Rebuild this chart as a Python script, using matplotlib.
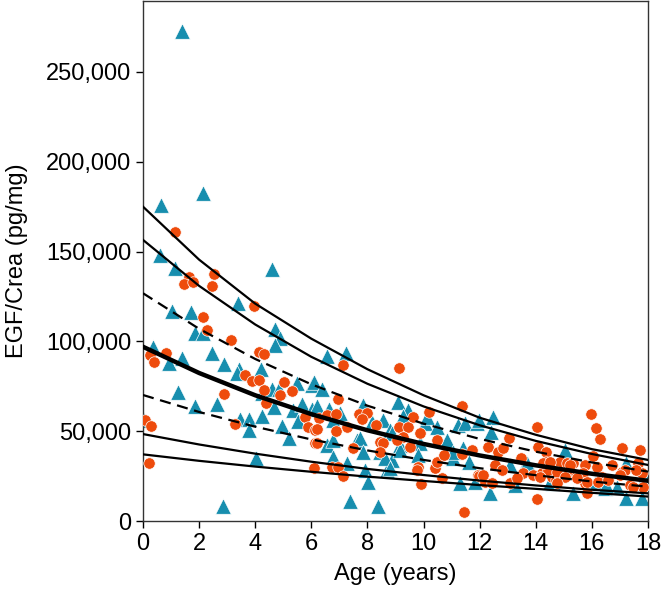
import matplotlib
matplotlib.use("Agg")
import matplotlib.pyplot as plt
from matplotlib.ticker import FuncFormatter

plt.rcParams['font.family'] = ['Liberation Sans', 'DejaVu Sans']

# ---- data: blue triangles (age, value) ----
tri_age = [0.63, 2.13, 0.61, 1.13, 4.61, 3.37, 1.02, 1.71, 1.85, 2.15, 4.70, 4.88, 1.38,
           0.37, 0.94, 1.38, 2.45, 2.87, 3.43, 4.21, 4.70, 3.34, 4.25, 4.59, 4.68, 4.85,
           5.48, 6.01, 1.26, 1.85, 2.62, 0.02, 3.46, 3.79, 3.78, 4.23, 4.94, 5.20, 5.36,
           5.54, 5.65, 6.01, 4.02, 2.86,
           6.55, 7.23, 6.09, 6.37, 6.19, 6.64, 7.02, 6.78, 7.85, 8.15, 8.56, 7.62, 6.55,
           6.78, 7.26, 7.91, 8.03, 7.38, 8.39, 8.45, 8.80, 9.10, 9.46, 9.28, 9.16, 10.05,
           10.11, 9.87, 8.86, 8.68, 10.47, 10.82, 11.06, 11.24, 11.48, 11.42, 11.63, 11.30,
           11.83, 11.89,
           12.46, 11.99, 12.39, 13.08, 13.61, 12.37, 13.26, 13.79, 15.04, 15.28, 15.34,
           16.11, 16.46, 17.21, 17.21, 17.77, 17.89, 14.62, 16.88,
           14.50, 16.52, 13.67, 8.86, 6.78, 7.73, 8.62, 7.85, 9.16, 9.81, 11.06, 8.80]
tri_val = [175800, 182800, 148100, 140700, 140100, 121200, 117100, 116200, 104800, 104800, 106900, 101900, 272800,
           97000, 88200, 90600, 93700, 87400, 84500, 84500, 98000, 82200, 71100, 73300, 63300, 73300,
           77000, 75700, 72000, 64000, 65100, 56200, 56600, 56600, 50700, 58500, 52900, 46000, 61800,
           55800, 65100, 62200, 34900, 8400,
           91900, 93400, 77600, 73300, 64000, 62200, 60300, 56200, 64600, 55300, 56200, 45100, 42300,
           35800, 32100, 28400, 21900, 11300, 8400, 38600, 50700, 66400, 61800, 58500, 42300, 54400,
           58100, 43300, 34000, 28400, 52500, 45100, 34900, 53500, 54400, 40500, 33000, 21000,
           21900, 54400,
           57700, 56200, 49700, 31200, 31200, 15400, 20000, 29300, 39500, 28400, 15400,
           21000, 18200, 32100, 12600, 12600, 24700, 21000, 19100,
           21900, 20000, 32100, 48800, 45100, 46000, 34900, 38600, 39500, 36700, 38600, 29300]

# ---- data: orange circles (age, value) ----
circ_age = [1.13, 1.64, 1.46, 1.79, 2.54, 2.46, 3.96, 2.13, 2.28, 3.14,
            0.25, 0.39, 0.81, 3.64, 4.13, 4.31, 3.87, 4.13, 4.30, 4.38, 4.88, 5.04, 5.30, 2.87,
            0.07, 0.29, 3.28, 5.77, 5.89, 6.13, 6.13, 0.21, 6.09,
            7.12, 9.13, 6.96, 6.28, 6.57, 6.88, 6.21, 6.88, 7.28, 7.71, 7.97, 7.79, 8.30, 6.21,
            7.49, 6.72, 6.96, 7.14, 8.45, 8.54, 9.13, 9.46, 9.63, 9.28, 9.04, 9.87, 10.20, 9.52,
            9.81, 9.78, 9.90, 10.41, 10.47, 10.64, 10.47, 10.73, 11.38, 11.36, 11.71, 11.45, 11.95,
            13.05, 12.31, 12.66, 12.84, 12.54, 12.78, 13.46, 13.55, 11.99, 12.19, 12.43, 13.08,
            13.32, 14.03, 14.07, 14.36, 14.03, 13.91, 14.21, 14.57, 14.36, 14.72, 14.86, 15.10,
            15.34, 15.10, 15.46, 15.75, 15.69, 15.75, 15.81, 15.97, 16.14, 16.29, 16.05, 16.17,
            16.35, 16.70, 17.06, 17.06, 17.36, 17.71, 17.65, 17.77, 17.83, 14.44, 14.74, 17.48,
            14.27, 14.50, 15.22, 17.18, 17.59, 12.13, 14.15, 15.04, 15.46, 15.81, 16.23, 16.58,
            17.00, 14.74, 8.45]
circ_val = [161100, 136000, 132100, 132900, 137500, 130700, 119500, 113600, 106300, 100800,
            92400, 88400, 93700, 81300, 94300, 93000, 77900, 78500, 72900, 65500, 70200, 77600, 72600, 70700,
            56200, 52900, 54000, 57700, 52200, 50700, 43300, 32100, 29300,
            86900, 85000, 67800, 57200, 59000, 59600, 51100, 50300, 52500, 59600, 60300, 56600, 53500, 43300,
            40500, 30200, 29900, 25200, 44200, 43300, 52500, 52500, 57700, 46900, 45100, 48800, 60900, 41400,
            30200, 28400, 20600, 29300, 33000, 23800, 45100, 36700, 64000, 37300, 39500, 5200, 25600,
            46000, 41400, 38600, 40500, 31200, 28400, 34900, 26600, 25200, 21900, 21000, 21000,
            23800, 52200, 41400, 38600, 12100, 25600, 26600, 24700, 33000, 22800, 33000, 32100,
            32100, 26600, 25600, 31200, 26600, 21000, 15400, 59600, 51600, 45500, 36200, 30200,
            24700, 31200, 40500, 27500, 20000, 39500, 32100, 26600, 19100, 28400, 27500, 19100,
            32100, 33000, 31200, 28400, 28400, 25600, 24700, 24700, 23800, 21900, 21900, 22800,
            25600, 21000, 38600]

# ---- reference curves read at even ages ----
curve_age = [0, 2, 4, 6, 8, 10, 12, 14, 16, 18]
p_top = [175000, 145500, 121000, 101500, 84500, 70000, 57500, 48000, 40000, 34000]
p_high = [156500, 130900, 109400, 91400, 76400, 63800, 53300, 44600, 37300, 31200]
p_upper_dash = [126800, 107000, 90200, 76100, 64200, 54200, 45700, 38600, 32600, 27500]
p_median = [97000, 82400, 70000, 59500, 50500, 42900, 36500, 31000, 26300, 22400]
p_lower_dash = [70150, 60700, 52500, 45400, 39300, 34000, 29400, 25500, 22000, 19100]
p_low = [48400, 42600, 37500, 33000, 29000, 25600, 22500, 19800, 17400, 15400]
p_bottom = [37100, 33500, 30300, 27400, 24700, 22300, 20000, 17900, 15700, 13600]

x_ticks = [0, 2, 4, 6, 8, 10, 12, 14, 16, 18]
y_ticks = [0, 50000, 100000, 150000, 200000, 250000]

fig = plt.figure(figsize=(6.64, 5.92), dpi=100)
ax = fig.add_axes([143 / 664, 71 / 592, 505 / 664, 520 / 592])

ax.scatter(tri_age, tri_val, marker='^', s=125, color='#178EAE', edgecolors='white',
           linewidths=0.5, zorder=2)
ax.scatter(circ_age, circ_val, marker='o', s=68, color='#EE4B0C', edgecolors='white',
           linewidths=0.5, zorder=3)

ax.plot(curve_age, p_top, color='black', lw=1.6, zorder=4)
ax.plot(curve_age, p_high, color='black', lw=1.6, zorder=4)
ax.plot(curve_age, p_upper_dash, color='black', lw=1.6, ls=(0, (5, 3)), zorder=4)
ax.plot(curve_age, p_median, color='black', lw=3.2, zorder=4)
ax.plot(curve_age, p_lower_dash, color='black', lw=1.6, ls=(0, (5, 3)), zorder=4)
ax.plot(curve_age, p_low, color='black', lw=1.6, zorder=4)
ax.plot(curve_age, p_bottom, color='black', lw=1.6, zorder=4)

ax.set_xlim(0, 18)
ax.set_ylim(0, 289500)
ax.set_xticks(x_ticks)
ax.set_yticks(y_ticks)
ax.yaxis.set_major_formatter(FuncFormatter(lambda v, p: f"{int(v):,}"))
ax.tick_params(labelsize=17, length=5, width=1)
ax.set_xlabel("Age (years)", fontsize=17, labelpad=6)
ax.set_ylabel("EGF/Crea (pg/mg)", fontsize=17, labelpad=13)
for s in ax.spines.values():
    s.set_linewidth(1)
    s.set_color('#333333')

fig.savefig("out.png", dpi=100)
